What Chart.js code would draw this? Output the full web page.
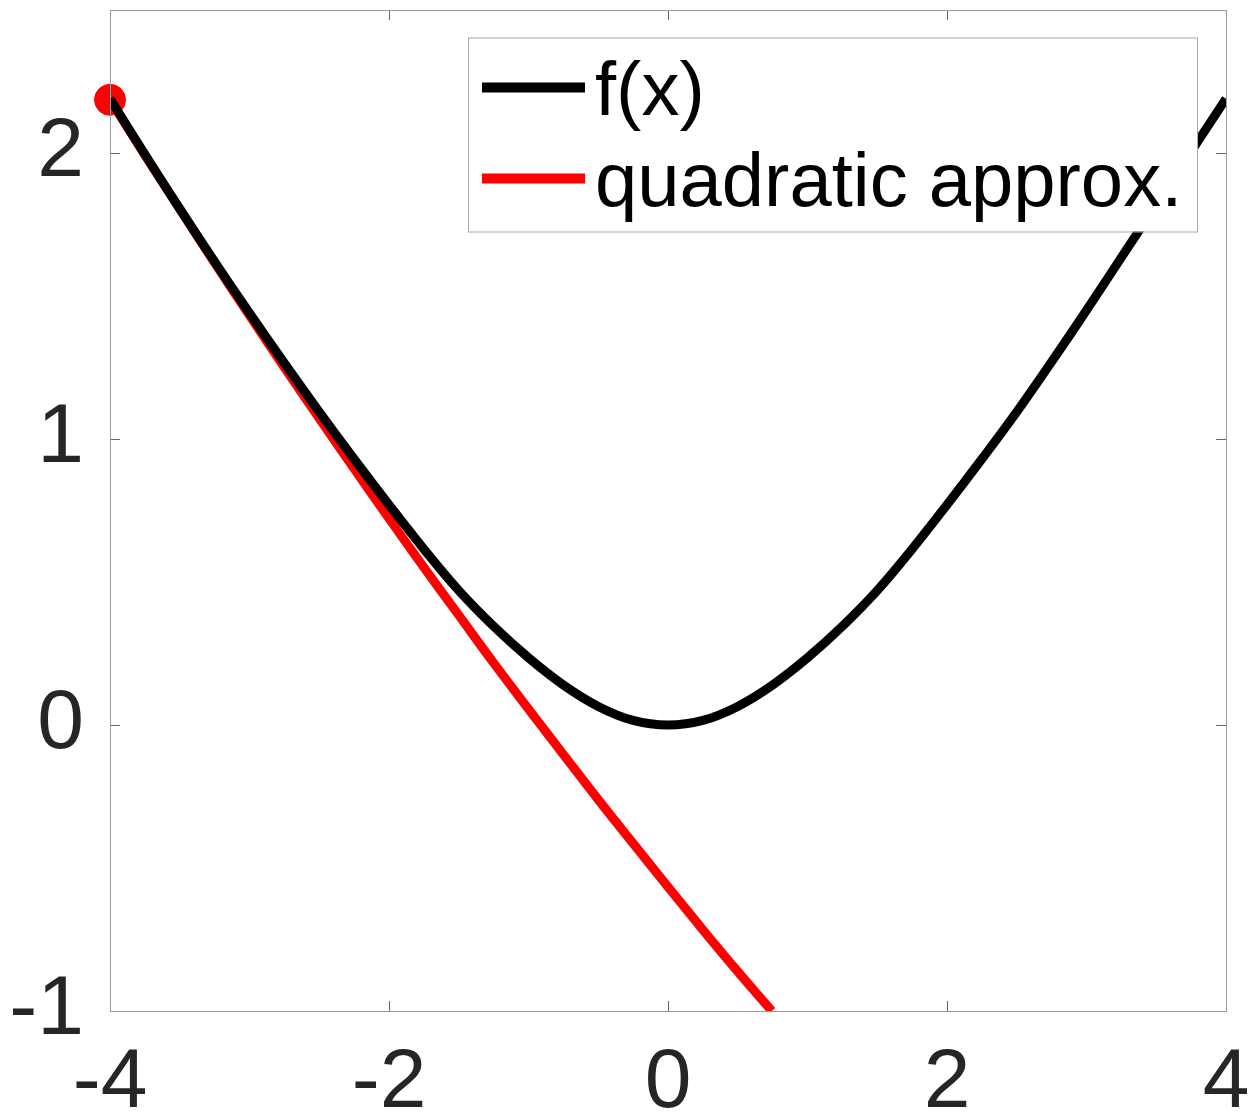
<html>
<head>
<script src="https://cdn.jsdelivr.net/npm/chart.js@4/dist/chart.umd.min.js"></script>
<style>
  body { margin: 0; background: #fff; }
</style>
</head>
<body>
<canvas id="chart" width="1253" height="1115"></canvas>
<script>
// values
const xTicks = [-4, -2, 0, 2, 4];
const yTicks = [-1, 0, 1, 2];

const fX = [-4, -3.75, -3.5, -3.25, -3, -2.75, -2.5, -2.25, -2, -1.75, -1.5, -1.25, -1, -0.75, -0.5, -0.25,
            0, 0.25, 0.5, 0.75, 1, 1.25, 1.5, 1.75, 2, 2.25, 2.5, 2.75, 3, 3.25, 3.5, 3.75, 4];
const fY = [2.19, 1.995, 1.805, 1.62, 1.44, 1.265, 1.095, 0.93, 0.77, 0.615, 0.47, 0.345, 0.235, 0.14, 0.065, 0.016,
            0, 0.016, 0.065, 0.14, 0.235, 0.345, 0.47, 0.615, 0.77, 0.93, 1.095, 1.27, 1.45, 1.635, 1.82, 2.005, 2.19];

const qX = [-4, -3.75, -3.5, -3.25, -3, -2.75, -2.5, -2.25, -2, -1.75, -1.5, -1.25, -1, -0.75, -0.5, -0.25, 0, 0.25, 0.5, 0.744];
const qY = [2.186, 1.993, 1.804, 1.616, 1.432, 1.25, 1.072, 0.896, 0.722, 0.551, 0.384, 0.217, 0.056, -0.103, -0.261, -0.414, -0.566, -0.716, -0.862, -1.0];

const dotX = [-4];
const dotY = [2.186];

const labels = ["f(x)", "quadratic approx."];

function pts(xs, ys) {
  return xs.map((x, i) => ({x: x, y: ys[i]}));
}

// matlab style box, inner ticks and the boxed legend
const boxPlugin = {
  id: "box",
  afterDatasetsDraw(chart) {
    const ctx = chart.ctx;
    const a = chart.chartArea;
    const xs = chart.scales.x, ys = chart.scales.y;
    ctx.save();
    ctx.strokeStyle = "#666";
    ctx.lineWidth = 1;
    ctx.beginPath();
    xs.ticks.forEach(t => {
      const px = Math.round(xs.getPixelForValue(t.value)) + 0.5;
      ctx.moveTo(px, a.bottom); ctx.lineTo(px, a.bottom - 10);
      ctx.moveTo(px, a.top); ctx.lineTo(px, a.top + 10);
    });
    ys.ticks.forEach(t => {
      const py = Math.round(ys.getPixelForValue(t.value)) + 0.5;
      ctx.moveTo(a.left, py); ctx.lineTo(a.left + 10, py);
      ctx.moveTo(a.right, py); ctx.lineTo(a.right - 10, py);
    });
    ctx.stroke();
    ctx.strokeStyle = "#9a9a9a";
    ctx.strokeRect(Math.round(a.left) + 0.5, Math.round(a.top) + 0.5,
                   Math.round(a.right - a.left), Math.round(a.bottom - a.top));
    ctx.restore();
  },
  afterDraw(chart) {
    const ctx = chart.ctx;
    const a = chart.chartArea;
    const left = a.left + 358, top = a.top + 27.5;
    const w = 729, h = 194;
    ctx.save();
    ctx.fillStyle = "#fff";
    ctx.fillRect(left, top, w, h);
    ctx.strokeStyle = "#a8a8a8";
    ctx.lineWidth = 1;
    ctx.strokeRect(left + 0.5, top + 0.5, w, h);
    ctx.font = "76px 'Liberation Sans', Arial, sans-serif";
    ctx.textBaseline = "alphabetic";
    ctx.fillStyle = "#000";
    labels.forEach((lab, i) => {
      const ds = chart.data.datasets[i];
      const ly = top + 50 + i * 91;
      ctx.strokeStyle = ds.borderColor;
      ctx.lineWidth = 10;
      ctx.beginPath();
      ctx.moveTo(left + 14, ly);
      ctx.lineTo(left + 117, ly);
      ctx.stroke();
      ctx.fillText(lab, left + 127, ly + 27);
    });
    ctx.restore();
  }
};

new Chart(document.getElementById("chart"), {
  type: "line",
  data: {
    datasets: [{
      label: labels[0],
      data: pts(fX, fY),
      borderColor: "#000000",
      borderWidth: 9,
      pointRadius: 0,
      tension: 0.4,
      clip: 0
    }, {
      label: labels[1],
      data: pts(qX, qY),
      borderColor: "#ff0000",
      borderWidth: 9,
      pointRadius: 0,
      tension: 0.4,
      clip: 0
    }, {
      type: "scatter",
      label: "point",
      data: pts(dotX, dotY),
      backgroundColor: "#ff0000",
      borderColor: "#ff0000",
      pointRadius: 15.5,
      clip: false
    }]
  },
  options: {
    responsive: false,
    animation: false,
    layout: { autoPadding: false, padding: { top: 10, right: 27, left: 0, bottom: 0 } },
    plugins: { legend: { display: false }, tooltip: { enabled: false } },
    scales: {
      x: {
        type: "linear",
        min: -4, max: 4,
        afterBuildTicks: s => { s.ticks = xTicks.map(v => ({value: v})); },
        afterFit: s => { s.height = 104; s.paddingLeft = 0; s.paddingRight = 0; },
        grid: { display: false, drawTicks: false },
        border: { display: false },
        ticks: {
          autoSkip: false, maxRotation: 0, padding: 22,
          color: "#262626",
          font: { family: "'Liberation Sans', Arial, sans-serif", size: 84 }
        }
      },
      y: {
        type: "linear",
        min: -1, max: 2.5,
        afterBuildTicks: s => { s.ticks = yTicks.map(v => ({value: v})); },
        afterFit: s => { s.width = 110; s.paddingTop = 0; s.paddingBottom = 0; },
        grid: { display: false, drawTicks: false },
        border: { display: false },
        ticks: {
          autoSkip: false, padding: 26,
          color: "#262626",
          font: { family: "'Liberation Sans', Arial, sans-serif", size: 84 }
        }
      }
    }
  },
  plugins: [boxPlugin]
});
</script>
</body>
</html>
